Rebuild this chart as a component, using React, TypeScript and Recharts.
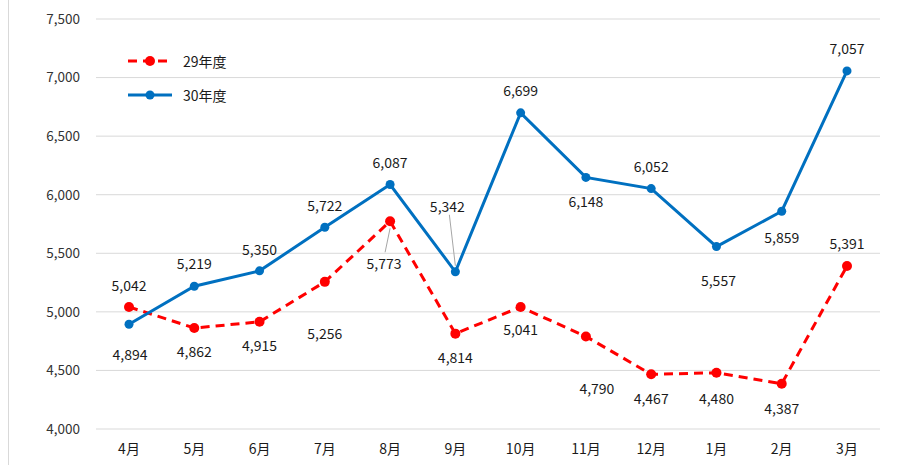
import {
  CartesianGrid,
  Line,
  LineChart,
  XAxis,
  YAxis,
} from "recharts";

const months = ["4月", "5月", "6月", "7月", "8月", "9月", "10月", "11月", "12月", "1月", "2月", "3月"];
const fy29 = [5042, 4862, 4915, 5256, 5773, 4814, 5041, 4790, 4467, 4480, 4387, 5391];
const fy30 = [4894, 5219, 5350, 5722, 6087, 5342, 6699, 6148, 6052, 5557, 5859, 7057];
const yTicks = [4000, 4500, 5000, 5500, 6000, 6500, 7000, 7500];

// label placement per point (dx, dy from marker), leader = draw thin connector
const fy29Labels = [
  { dx: 0, dy: -22 }, { dx: 0, dy: 23 }, { dx: 0, dy: 23 }, { dx: 0, dy: 51 },
  { dx: -6, dy: 42, leader: true }, { dx: 0, dy: 23 }, { dx: 0, dy: 22 }, { dx: 11, dy: 52 },
  { dx: 0, dy: 24 }, { dx: 0, dy: 25 }, { dx: 0, dy: 24 }, { dx: 0, dy: -23 },
];
const fy30Labels = [
  { dx: 1, dy: 30 }, { dx: 0, dy: -23 }, { dx: 0, dy: -22 }, { dx: 0, dy: -22 },
  { dx: 0, dy: -23 }, { dx: -8, dy: -66, leader: true }, { dx: 0, dy: -23 }, { dx: 0, dy: 24 },
  { dx: 0, dy: -23 }, { dx: 2, dy: 33 }, { dx: 0, dy: 26 }, { dx: 0, dy: -23 },
];

const data = months.map((m, i) => ({ month: m, fy29: fy29[i], fy30: fy30[i] }));

const fmt = (v: number) => v.toLocaleString("en-US");
const font = "'Noto Sans CJK JP', 'Noto Sans', sans-serif";

function makeLabel(place: { dx: number; dy: number; leader?: boolean }[]) {
  return (props: any) => {
    const { x, y, value, index } = props;
    const p = place[index];
    const tx = x + p.dx;
    const ty = y + p.dy;
    return (
      <g>
        {p.leader && (
          <line
            x1={tx + (p.dy > 0 ? 1 : 2)}
            y1={p.dy > 0 ? ty - 11 : ty + 9}
            x2={x}
            y2={p.dy > 0 ? y + 7 : y - 6}
            stroke="#a6a6a6"
            strokeWidth={1}
          />
        )}
        <text
          x={tx}
          y={ty}
          textAnchor="middle"
          dominantBaseline="central"
          fontSize={14}
          fontFamily={font}
          fill="#1a1a1a"
        >
          {fmt(value)}
        </text>
      </g>
    );
  };
}

function LegendBox() {
  const rows = [
    { name: "29年度", color: "#ff0000", dash: "9 6", r: 5 },
    { name: "30年度", color: "#0070c0", dash: undefined, r: 4.5 },
  ];
  return (
    <svg width={140} height={70} style={{ position: "absolute", left: 126, top: 50 }}>
      {rows.map((r, i) => (
        <g key={r.name} transform={`translate(0, ${i * 34 + 11})`}>
          <line x1={2} x2={46} y1={0} y2={0} stroke={r.color} strokeWidth={3} strokeDasharray={r.dash} />
          <circle cx={24} cy={0} r={r.r} fill={r.color} />
          <text x={57} y={0} dominantBaseline="central" fontSize={14} fontFamily={font} fill="#1a1a1a">
            {r.name}
          </text>
        </g>
      ))}
    </svg>
  );
}

export default function App() {
  return (
    <div style={{ position: "absolute", left: 0, top: 0, width: 906, height: 465, background: "#fff" }}>
      <div style={{ position: "absolute", left: 8, top: 0, width: 1, height: 465, background: "#d9d9d9" }} />
      <LineChart
        width={906}
        height={465}
        data={data}
        margin={{ top: 19, right: 26, left: 0, bottom: 0 }}
      >
        <CartesianGrid stroke="#d9d9d9" vertical={false} />
        <XAxis
          dataKey="month"
          axisLine={false}
          tickLine={false}
          tickSize={0}
          tickMargin={15}
          height={36}
          padding={{ left: 33, right: 33 }}
          tick={{ fill: "#1a1a1a", fontSize: 14, fontFamily: font }}
          interval={0}
        />
        <YAxis
          domain={[4000, 7500]}
          ticks={yTicks}
          axisLine={false}
          tickLine={false}
          tickSize={0}
          tickMargin={16}
          width={96}
          tickFormatter={fmt}
          tick={{ fill: "#333", fontSize: 13.5, fontFamily: font }}
        />
        <Line
          dataKey="fy29"
          name="29年度"
          stroke="#ff0000"
          strokeWidth={3}
          strokeDasharray="9 6"
          dot={{ r: 5, fill: "#ff0000", stroke: "#ff0000", strokeWidth: 0 }}
          activeDot={false}
          label={makeLabel(fy29Labels)}
          isAnimationActive={false}
        />
        <Line
          dataKey="fy30"
          name="30年度"
          stroke="#0070c0"
          strokeWidth={3}
          dot={{ r: 4.5, fill: "#0070c0", stroke: "#0070c0", strokeWidth: 0 }}
          activeDot={false}
          label={makeLabel(fy30Labels)}
          isAnimationActive={false}
        />
      </LineChart>
      <LegendBox />
    </div>
  );
}
